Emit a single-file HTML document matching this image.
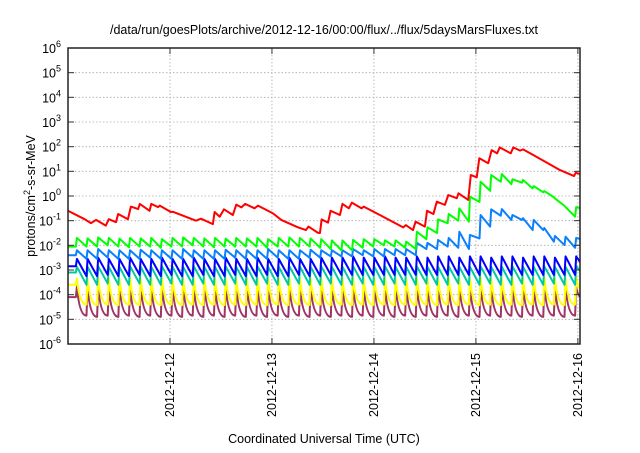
<!DOCTYPE html>
<html><head><meta charset="utf-8"><style>
body{margin:0;background:#fff;}
svg text{font-family:"Liberation Sans",sans-serif;fill:#000;}
</style></head><body>
<svg id="chart" width="640" height="448" viewBox="0 0 640 448" xmlns="http://www.w3.org/2000/svg">
<rect width="640" height="448" fill="#fff"/>
<text x="324" y="34" font-size="12.5" text-anchor="middle">/data/run/goesPlots/archive/2012-12-16/00:00/flux/../flux/5daysMarsFluxes.txt</text>
<g id="grid"></g><g id="series"></g><g id="axes"></g>
<text transform="translate(35,196) rotate(-90)" font-size="12.5" text-anchor="middle">protons/cm<tspan dy="-5" font-size="9">2</tspan><tspan dy="5">-s-sr-MeV</tspan></text>
<text x="324" y="443" font-size="12.5" text-anchor="middle">Coordinated Universal Time (UTC)</text>
</svg>
<script>
const dayLabels = ["2012-12-12","2012-12-13","2012-12-14","2012-12-15","2012-12-16"];
const dayHours = [24,48,72,96,120];
const decadeExps = [-6,-5,-4,-3,-2,-1,0,1,2,3,4,5,6];
const toothHours = [2.1,4.6,7.1,9.6,12.1,14.6,17.1,19.6,22.1,24.6,27.1,29.6,32.1,34.6,37.1,39.6,42.1,44.6,47.1,49.6,52.1,54.6,57.1,59.6,62.1,64.6,67.1,69.6,72.1,74.6,77.1,79.6,82.1,84.6,87.1,89.6,92.1,94.6,97.1,99.6,102.1,104.6,107.1,109.6,112.1,114.6,117.1,119.6];
const redHours = [0,3.9,5.4,6.6,8.9,9.6,11.3,11.8,14.1,14.8,16.5,16.9,19.2,19.6,21.2,21.6,24.2,24.7,28.6,30.1,31.3,34.1,34.5,35.7,36.7,38.8,39.6,40.8,41.7,43.9,44.7,48.2,50.2,54.1,56.0,56.6,58.8,59.3,59.7,61.2,61.8,64.0,64.6,66.1,66.8,69.1,69.6,72.6,78.9,79.5,81.2,81.8,84.0,84.5,86.0,86.8,88.7,89.5,91.5,91.9,94.2,94.8,96.2,96.8,98.9,99.7,101.0,101.6,104.2,104.8,106.4,107.1,109.5,115.8,119.1,119.5,120.5];
const redLog = [-0.6,-0.94,-1.1,-0.97,-1.2,-0.94,-1.06,-0.73,-0.94,-0.43,-0.53,-0.32,-0.6,-0.32,-0.45,-0.39,-0.65,-0.64,-0.9,-1.0,-0.92,-1.14,-0.65,-0.84,-0.54,-0.77,-0.35,-0.46,-0.32,-0.5,-0.39,-0.7,-0.97,-1.27,-1.38,-1.24,-1.49,-1.5,-0.95,-1.08,-0.6,-0.77,-0.32,-0.5,-0.27,-0.5,-0.43,-0.7,-1.27,-1.18,-1.38,-1.04,-1.24,-0.6,-0.73,-0.23,-0.36,0.04,-0.09,0.11,-0.16,0.85,0.76,1.53,1.33,1.86,1.73,1.97,1.73,1.97,1.84,1.89,1.66,1.05,0.81,0.94,0.89];
const greenStart = -2.05;
const greenPeak = [-1.7,-1.72,-1.68,-1.7,-1.73,-1.7,-1.72,-1.7,-1.75,-1.7,-1.68,-1.7,-1.72,-1.7,-1.73,-1.7,-1.72,-1.7,-1.75,-1.7,-1.68,-1.7,-1.72,-1.75,-1.8,-1.8,-1.78,-1.75,-1.75,-1.8,-1.8,-1.85,-1.45,-1.27,-0.95,-0.73,-0.5,-0.03,0.58,0.85,0.89,0.68,0.65,0.4,0.2,-0.1,-0.45,-0.45];
const greenTrough = [-2.05,-2.05,-2.0,-2.05,-2.08,-2.05,-2.05,-2.1,-2.05,-2.05,-2.0,-2.05,-2.08,-2.05,-2.05,-2.05,-2.05,-2.1,-2.05,-2.05,-2.05,-2.05,-2.1,-2.15,-2.2,-2.2,-2.1,-2.05,-2.0,-2.05,-2.1,-2.15,-1.75,-1.5,-1.1,-1.0,-1.04,-0.24,0.21,0.58,0.48,0.54,0.31,0.15,-0.05,-0.4,-0.84,-0.55];
const ltblueStart = -2.4;
const ltbluePeak = [-2.2,-2.2,-2.15,-2.2,-2.2,-2.2,-2.18,-2.2,-2.2,-2.2,-2.15,-2.2,-2.2,-2.2,-2.18,-2.2,-2.2,-2.2,-2.15,-2.2,-2.2,-2.2,-2.18,-2.2,-2.2,-2.2,-2.15,-2.2,-2.15,-2.15,-2.15,-2.15,-1.9,-1.9,-1.78,-1.7,-1.45,-1.58,-0.77,-0.54,-0.53,-0.77,-0.9,-0.97,-1.3,-1.62,-1.65,-1.7];
const ltblueTrough = [-2.55,-2.55,-2.5,-2.55,-2.55,-2.55,-2.5,-2.55,-2.55,-2.55,-2.5,-2.55,-2.55,-2.55,-2.5,-2.55,-2.55,-2.55,-2.5,-2.55,-2.55,-2.5,-2.5,-2.45,-2.45,-2.45,-2.4,-2.45,-2.45,-2.4,-2.4,-2.4,-2.15,-2.15,-2.05,-2.1,-2.15,-1.72,-1.24,-0.8,-0.97,-0.97,-1.38,-1.38,-1.85,-1.99,-2.1,-1.8];
const blueStart = -2.85;
const bluePeak = [-2.55,-2.55,-2.5,-2.55,-2.55,-2.5,-2.55,-2.55,-2.5,-2.55,-2.55,-2.5,-2.55,-2.55,-2.5,-2.55,-2.55,-2.5,-2.55,-2.55,-2.5,-2.55,-2.55,-2.5,-2.5,-2.5,-2.45,-2.5,-2.5,-2.45,-2.5,-2.5,-2.45,-2.5,-2.45,-2.45,-2.5,-2.45,-2.45,-2.5,-2.45,-2.45,-2.5,-2.45,-2.45,-2.5,-2.45,-2.45];
const blueTrough = [-3.25,-3.25,-3.2,-3.25,-3.25,-3.2,-3.25,-3.25,-3.2,-3.25,-3.25,-3.2,-3.25,-3.25,-3.2,-3.25,-3.25,-3.2,-3.25,-3.25,-3.2,-3.25,-3.25,-3.2,-3.2,-3.2,-3.2,-3.2,-3.2,-3.2,-3.2,-3.2,-3.2,-3.2,-3.2,-3.2,-3.2,-3.2,-3.2,-3.2,-3.2,-3.2,-3.2,-3.2,-3.2,-3.2,-3.2,-3.0];
const tealStart = -3.1;
const tealPeak = [-2.87,-2.87,-2.85,-2.87,-2.87,-2.85,-2.87,-2.87,-2.85,-2.87,-2.87,-2.85,-2.87,-2.87,-2.85,-2.87,-2.87,-2.85,-2.87,-2.87,-2.85,-2.87,-2.87,-2.85,-2.87,-2.87,-2.85,-2.87,-2.87,-2.85,-2.87,-2.87,-2.85,-2.87,-2.87,-2.85,-2.87,-2.87,-2.85,-2.87,-2.87,-2.85,-2.87,-2.87,-2.85,-2.87,-2.87,-2.85];
const tealTrough = [-3.6,-3.6,-3.55,-3.6,-3.6,-3.55,-3.6,-3.6,-3.55,-3.6,-3.6,-3.55,-3.6,-3.6,-3.55,-3.6,-3.6,-3.55,-3.6,-3.6,-3.55,-3.6,-3.6,-3.55,-3.6,-3.6,-3.55,-3.6,-3.6,-3.55,-3.6,-3.6,-3.55,-3.6,-3.6,-3.55,-3.6,-3.6,-3.55,-3.6,-3.6,-3.55,-3.6,-3.6,-3.55,-3.6,-3.6,-3.3];
const yellowStart = -3.6;
const yellowPeak = [-3.34,-3.34,-3.3,-3.34,-3.34,-3.3,-3.34,-3.34,-3.3,-3.34,-3.34,-3.3,-3.34,-3.34,-3.3,-3.34,-3.34,-3.3,-3.34,-3.34,-3.3,-3.34,-3.34,-3.3,-3.34,-3.34,-3.3,-3.34,-3.34,-3.3,-3.34,-3.34,-3.3,-3.34,-3.34,-3.3,-3.34,-3.34,-3.3,-3.34,-3.34,-3.3,-3.34,-3.34,-3.3,-3.34,-3.34,-3.3];
const yellowTrough = [-4.4,-4.42,-4.4,-4.42,-4.4,-4.42,-4.4,-4.42,-4.4,-4.42,-4.4,-4.42,-4.4,-4.42,-4.4,-4.42,-4.4,-4.42,-4.4,-4.42,-4.4,-4.42,-4.4,-4.42,-4.4,-4.42,-4.4,-4.42,-4.4,-4.42,-4.4,-4.42,-4.4,-4.42,-4.4,-4.42,-4.4,-4.42,-4.4,-4.42,-4.4,-4.42,-4.4,-4.42,-4.4,-4.42,-4.4,-3.9];
const purpleStart = -4.1;
const purplePeak = [-3.67,-3.7,-3.67,-3.7,-3.67,-3.7,-3.67,-3.7,-3.67,-3.7,-3.67,-3.7,-3.67,-3.7,-3.67,-3.7,-3.67,-3.7,-3.67,-3.7,-3.67,-3.7,-3.67,-3.7,-3.67,-3.7,-3.67,-3.7,-3.67,-3.7,-3.67,-3.7,-3.67,-3.7,-3.67,-3.7,-3.67,-3.7,-3.67,-3.7,-3.67,-3.7,-3.67,-3.7,-3.67,-3.7,-3.67,-3.7];
const purpleTrough = [-4.85,-4.9,-4.85,-4.9,-4.85,-4.9,-4.85,-4.9,-4.85,-4.9,-4.85,-4.9,-4.85,-4.9,-4.85,-4.9,-4.85,-4.9,-4.85,-4.9,-4.85,-4.9,-4.85,-4.9,-4.85,-4.9,-4.85,-4.9,-4.85,-4.9,-4.85,-4.9,-4.85,-4.9,-4.85,-4.9,-4.85,-4.9,-4.85,-4.9,-4.85,-4.9,-4.85,-4.9,-4.85,-4.9,-4.85,-4.2];

const X0=68, X1=580, Y0=48, Y1=344, HMAX=120.5, LMIN=-6, LMAX=6;
const NS="http://www.w3.org/2000/svg";
function xs(h){return X0+h/HMAX*(X1-X0);}
function ys(l){return Y1-(l-LMIN)/(LMAX-LMIN)*(Y1-Y0);}
function mk(tag,attrs,parent){const e=document.createElementNS(NS,tag);for(const k in attrs)e.setAttribute(k,attrs[k]);parent.appendChild(e);return e;}
const grid=document.getElementById('grid'), axes=document.getElementById('axes'), ser=document.getElementById('series');

decadeExps.forEach(e=>{
  const y=ys(e);
  if(e>LMIN&&e<LMAX){const g=mk('line',{x1:X0,x2:X1,y1:y,y2:y,stroke:'#aaa','stroke-width':0.8,'stroke-dasharray':'1.5,2'},grid);
  
  }
  const t1=mk('line',{x1:X0,x2:X0+6,y1:y,y2:y,stroke:'#333','stroke-width':1},axes);
  
  
  const t2=mk('line',{x1:X1-6,x2:X1,y1:y,y2:y,stroke:'#333','stroke-width':1},axes);
  
  
  const tx=mk('text',{x:61,y:y+5,'font-size':12.5,'text-anchor':'end'},axes);
  
  
  tx.innerHTML='10<tspan dy="-6" font-size="9">'+e+'</tspan>';
});
dayHours.forEach((h,i)=>{
  const x=xs(h);
  const g=mk('line',{x1:x,x2:x,y1:Y0,y2:Y1,stroke:'#aaa','stroke-width':0.8,'stroke-dasharray':'1.5,2'},grid);
  
  
  const t1=mk('line',{x1:x,x2:x,y1:Y1-6,y2:Y1,stroke:'#333','stroke-width':1},axes);
  
  
  const t2=mk('line',{x1:x,x2:x,y1:Y0,y2:Y0+6,stroke:'#333','stroke-width':1},axes);
  
  
  const tx=mk('text',{transform:'translate('+(x+4)+',353) rotate(-90)','font-size':12.5,'text-anchor':'end'},axes);
  
  
  tx.textContent=dayLabels[i];
});
const fr=mk('rect',{x:X0,y:Y0,width:X1-X0,height:Y1-Y0,fill:'none',stroke:'#222','stroke-width':1.5},axes);



const clip=mk('clipPath',{id:'pc'},document.getElementById('chart'));
mk('rect',{x:X0,y:Y0,width:X1-X0,height:Y1-Y0},clip);
ser.setAttribute('clip-path','url(#pc)');

function tooth(name,color,start,pk,tr,curve){
  let d='M'+xs(0)+','+ys(start);
  for(let k=0;k<toothHours.length;k++){
    const h=toothHours[k];
    const px=xs(h), py=ys(pk[k]);
    d+=' L'+(xs(h-0.25))+','+ys(k===0?start:tr[k-1])+' L'+px+','+py;
    const th=(k+1<toothHours.length?toothHours[k+1]:h+2.5)-0.25;
    const ex=xs(th), ey=ys(tr[k]);
    if(curve) d+=' Q'+(px+(ex-px)*0.25)+','+ey+' '+ex+','+ey;
    else d+=' L'+ex+','+ey;
  }
  const p=mk('path',{d:d,fill:'none',stroke:color,'stroke-width':2,'stroke-linejoin':'round'},ser);
  
  
}
tooth('purple-series','#a03464',purpleStart,purplePeak,purpleTrough,true);
tooth('yellow-series','#ffff00',yellowStart,yellowPeak,yellowTrough,true);
tooth('teal-series','#00c8a0',tealStart,tealPeak,tealTrough,false);
tooth('blue-series','#0000ff',blueStart,bluePeak,blueTrough,false);
tooth('light-blue-series','#0a80ff',ltblueStart,ltbluePeak,ltblueTrough,false);
tooth('green-series','#00ff00',greenStart,greenPeak,greenTrough,false);
let rd='';
redHours.forEach((h,i)=>{rd+=(i?' L':'M')+xs(h)+','+ys(redLog[i]);});
const rp=mk('path',{d:rd,fill:'none',stroke:'#ff0000','stroke-width':2,'stroke-linejoin':'round'},ser);


</script>
</body></html>
